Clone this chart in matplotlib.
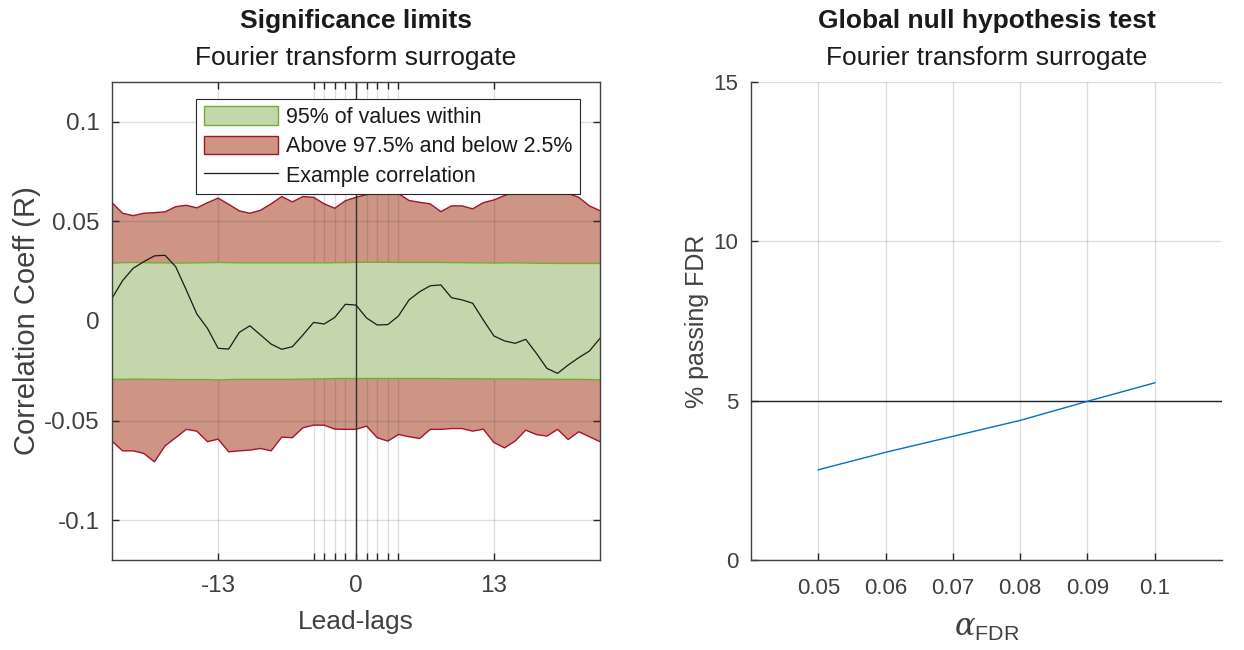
import numpy as np
import matplotlib
matplotlib.use("Agg")
from matplotlib import pyplot as plt
from matplotlib.patches import Patch
from matplotlib.lines import Line2D

plt.rcParams["font.family"] = ["Liberation Sans", "DejaVu Sans"]
plt.rcParams["axes.unicode_minus"] = False
plt.rcParams["mathtext.fontset"] = "custom"
plt.rcParams["mathtext.sf"] = "Liberation Sans"
plt.rcParams["mathtext.it"] = "DejaVu Serif:italic"

# lead-lag axis
lags = np.arange(-23, 24)

# outer band (97.5 / 2.5 percentile)
upper_red = [0.0594, 0.0541, 0.0529, 0.0541, 0.0544, 0.0548, 0.0574, 0.0581,
             0.0568, 0.0594, 0.0617, 0.0586, 0.0553, 0.0541, 0.0556, 0.0588,
             0.0625, 0.0598, 0.0625, 0.0621, 0.0588, 0.0566, 0.0604, 0.0621,
             0.0635, 0.0645, 0.0650, 0.0640, 0.0605, 0.0596, 0.0588, 0.0549,
             0.0578, 0.0578, 0.0563, 0.0594, 0.0608, 0.0630, 0.0650, 0.0660,
             0.0670, 0.0665, 0.0655, 0.0640, 0.0621, 0.0578, 0.0554]
lower_red = [-0.0603, -0.0652, -0.0652, -0.0665, -0.0707, -0.0627, -0.0586, -0.0544,
             -0.0553, -0.0606, -0.0593, -0.0657, -0.0652, -0.0648, -0.0640, -0.0652,
             -0.0583, -0.0586, -0.0536, -0.0523, -0.0523, -0.0543, -0.0544, -0.0544,
             -0.0528, -0.0586, -0.0603, -0.0570, -0.0581, -0.0590, -0.0544, -0.0544,
             -0.0540, -0.0540, -0.0553, -0.0543, -0.0610, -0.0637, -0.0603, -0.0548,
             -0.0570, -0.0578, -0.0544, -0.0595, -0.0556, -0.0581, -0.0606]

# inner band (95% of values)
upper_green = [0.0290, 0.0293, 0.0294, 0.0293, 0.0292, 0.0292, 0.0291, 0.0291,
               0.0292, 0.0293, 0.0294, 0.0293, 0.0292, 0.0292, 0.0292, 0.0292,
               0.0292, 0.0292, 0.0292, 0.0292, 0.0292, 0.0293, 0.0293, 0.0295,
               0.0295, 0.0295, 0.0295, 0.0294, 0.0294, 0.0294, 0.0294, 0.0294,
               0.0293, 0.0293, 0.0292, 0.0292, 0.0291, 0.0292, 0.0292, 0.0291,
               0.0290, 0.0290, 0.0289, 0.0289, 0.0289, 0.0289, 0.0289]
lower_green = [-0.0293, -0.0293, -0.0292, -0.0292, -0.0293, -0.0293, -0.0294, -0.0294,
               -0.0294, -0.0294, -0.0296, -0.0294, -0.0293, -0.0293, -0.0293, -0.0293,
               -0.0293, -0.0293, -0.0292, -0.0291, -0.0290, -0.0289, -0.0289, -0.0289,
               -0.0289, -0.0289, -0.0289, -0.0289, -0.0289, -0.0289, -0.0289, -0.0289,
               -0.0290, -0.0290, -0.0290, -0.0290, -0.0291, -0.0291, -0.0291, -0.0291,
               -0.0292, -0.0292, -0.0293, -0.0293, -0.0293, -0.0294, -0.0295]

example_corr = [0.0114, 0.0203, 0.0265, 0.0298, 0.0327, 0.0330, 0.0273, 0.0156,
                0.0035, -0.0037, -0.0137, -0.0141, -0.0057, -0.0024, -0.0070, -0.0116,
                -0.0142, -0.0129, -0.0070, -0.0007, -0.0015, 0.0018, 0.0084, 0.0080,
                0.0015, -0.0020, -0.0018, 0.0025, 0.0106, 0.0147, 0.0177, 0.0181,
                0.0117, 0.0106, 0.0089, 0.0005, -0.0075, -0.0100, -0.0112, -0.0092,
                -0.0162, -0.0238, -0.0263, -0.0221, -0.0184, -0.0151, -0.0087]

# global null hypothesis test
alpha_fdr = [0.05, 0.06, 0.07, 0.08, 0.09, 0.1]
pct_passing = [2.83, 3.38, 3.88, 4.38, 4.98, 5.56]

axis_col = "#262626"
tick_col = "#404040"
green_fill, green_edge = "#c3d6ac", "#77ac30"
red_fill, red_edge = "#ce9585", "#a2142f"

fig = plt.figure(figsize=(12.44, 6.5), dpi=100)
ax1 = fig.add_axes([112 / 1244, 90 / 650, 488 / 1244, 478 / 650])
ax2 = fig.add_axes([751 / 1244, 90 / 650, 471 / 1244, 478 / 650])

# ---- significance limits ----
ax1.fill_between(lags, lower_red, upper_red, facecolor=red_fill, edgecolor="none", zorder=1)
ax1.plot(lags, upper_red, color=red_edge, lw=1, zorder=2)
ax1.plot(lags, lower_red, color=red_edge, lw=1, zorder=2)
ax1.fill_between(lags, lower_green, upper_green, facecolor=green_fill, edgecolor="none", zorder=3)
ax1.plot(lags, upper_green, color=green_edge, lw=1, zorder=4)
ax1.plot(lags, lower_green, color=green_edge, lw=1, zorder=4)
ax1.plot(lags, example_corr, color="#1a1a1a", lw=0.9, zorder=6)
ax1.axvline(0, color="#333333", lw=1, zorder=5)

ax1.set_xlim(-23, 23)
ax1.set_ylim(-0.12, 0.12)
xt = [-13, -4, -3, -2, -1, 0, 1, 2, 3, 4, 13]
ax1.set_xticks(xt)
ax1.set_xticklabels([str(t) if t in (-13, 0, 13) else "" for t in xt])
ax1.set_yticks([-0.1, -0.05, 0, 0.05, 0.1])
ax1.set_yticklabels(["-0.1", "-0.05", "0", "0.05", "0.1"])
ax1.grid(True, color=axis_col, alpha=0.15, lw=1, zorder=5)
ax1.set_axisbelow(False)
ax1.tick_params(direction="in", top=True, right=True, length=5, width=1,
                colors=axis_col, labelcolor=tick_col, labelsize=17.5)
ax1.tick_params(axis="x", pad=11)
ax1.tick_params(axis="y", pad=9)
for s in ax1.spines.values():
    s.set_color("#404040")
    s.set_linewidth(1)
    s.set_zorder(7)
ax1.set_xlabel("Lead-lags", fontsize=19, color=tick_col, labelpad=9)
ax1.set_ylabel("Correlation Coeff (R)", fontsize=21, color=tick_col, labelpad=2)
ax1.set_title("Fourier transform surrogate", fontsize=19, color="#1a1a1a", pad=12)
ax1.text(0.5, 1.128, "Significance limits", transform=ax1.transAxes, ha="center",
         va="center", fontsize=19, fontweight="bold", color="#1a1a1a")

handles = [Patch(facecolor=green_fill, edgecolor=green_edge, lw=1),
           Patch(facecolor=red_fill, edgecolor=red_edge, lw=1),
           Line2D([], [], color="#1a1a1a", lw=0.9)]
leg = ax1.legend(handles, ["95% of values within", "Above 97.5% and below 2.5%",
                           "Example correlation"],
                 loc="upper right", bbox_to_anchor=(0.959, 0.965), fontsize=15.5,
                 frameon=True, fancybox=False, framealpha=1, edgecolor="#262626",
                 handlelength=3.45, handleheight=0.95, handletextpad=0.37,
                 borderpad=0.36, labelspacing=0.35, borderaxespad=0)
leg.get_frame().set_linewidth(0.8)
leg.set_zorder(10)
for t in leg.get_texts():
    t.set_color("#1a1a1a")

# ---- global null hypothesis test ----
ax2.plot(alpha_fdr, pct_passing, color="#0072bd", lw=1, zorder=4)
ax2.axhline(5, color="#262626", lw=1, zorder=3)
ax2.set_xlim(0.04, 0.11)
ax2.set_ylim(0, 15)
ax2.set_xticks(alpha_fdr)
ax2.set_xticklabels(["0.05", "0.06", "0.07", "0.08", "0.09", "0.1"])
ax2.set_yticks([0, 5, 10, 15])
ax2.grid(True, color=axis_col, alpha=0.15, lw=1)
ax2.tick_params(direction="in", length=5, width=1, colors=axis_col,
                labelcolor=tick_col, labelsize=16)
ax2.tick_params(axis="x", pad=13)
ax2.tick_params(axis="y", pad=9)
for side in ("top", "right"):
    ax2.spines[side].set_visible(False)
for side in ("left", "bottom"):
    ax2.spines[side].set_color("#404040")
    ax2.spines[side].set_linewidth(1)
ax2.set_xlabel(r"$\mathit{\alpha}_{\mathsf{FDR}}$", fontsize=22, color=tick_col, labelpad=10)
ax2.set_ylabel("% passing FDR", fontsize=18, color=tick_col, labelpad=3)
ax2.set_title("Fourier transform surrogate", fontsize=19, color="#1a1a1a", pad=12)
ax2.text(0.5, 1.128, "Global null hypothesis test", transform=ax2.transAxes, ha="center",
         va="center", fontsize=19, fontweight="bold", color="#1a1a1a")

fig.savefig("out.png", dpi=100)
